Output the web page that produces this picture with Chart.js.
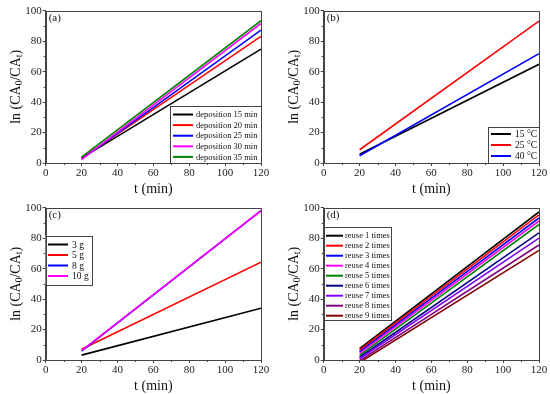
<!DOCTYPE html>
<html>
<head>
<meta charset="utf-8">
<script src="https://cdn.jsdelivr.net/npm/chart.js@4/dist/chart.umd.min.js"></script>
<style>
  html, body { margin: 0; padding: 0; background: #fff; }
  #wrap { position: relative; width: 550px; height: 394px; }
  .panel { position: absolute; width: 275px; height: 197px; }
</style>
</head>
<body>
<div id="wrap">
  <div class="panel" style="left:0;top:0"><canvas id="pa" width="275" height="197"></canvas></div>
  <div class="panel" style="left:275px;top:0"><canvas id="pb" width="275" height="197"></canvas></div>
  <div class="panel" style="left:0;top:197px"><canvas id="pc" width="275" height="197"></canvas></div>
  <div class="panel" style="left:275px;top:197px"><canvas id="pd" width="275" height="197"></canvas></div>
</div>
<script>
// shared x values (fitted lines from t = 20 to t = 120 min)
const tValues = [20, 120];
const xTicks = [0, 20, 40, 60, 80, 100, 120];
const yTicks = [0, 20, 40, 60, 80, 100];

// (a) deposition time
const labelsA = ['deposition 15 min', 'deposition 20 min', 'deposition 25 min', 'deposition 30 min', 'deposition 35 min'];
const dep15 = [3.2, 74.8];
const dep20 = [3.0, 83.2];
const dep25 = [2.6, 87.3];
const dep30 = [2.4, 91.6];
const dep35 = [3.9, 93.4];

// (b) temperature
const labelsB = ['15 °C', '25 °C', '40 °C'];
const temp15 = [5.8, 64.8];
const temp25 = [8.7, 93.2];
const temp40 = [4.8, 71.8];

// (c) dosage
const labelsC = ['3 g', '5 g', '8 g', '10 g'];
const dose3 = [3.2, 34.0];
const dose5 = [7.0, 64.2];
const dose8 = [5.8, 98.0];
const dose10 = [6.2, 98.0];

// (d) reuse
const labelsD = ['reuse 1 times', 'reuse 2 times', 'reuse 3 times', 'reuse 4 times', 'reuse 5 times',
                 'reuse 6 times', 'reuse 7 times', 'reuse 8 times', 'reuse 9 times'];
const reuse1 = [7.4, 97.2];
const reuse2 = [6.4, 95.3];
const reuse3 = [5.4, 93.3];
const reuse4 = [4.4, 91.3];
const reuse5 = [3.0, 89.0];
const reuse6 = [1.8, 83.5];
const reuse7 = [0.8, 80.0];
const reuse8 = [-0.4, 75.5];
const reuse9 = [-1.6, 72.0];

const SERIF = '"Liberation Serif", "Times New Roman", serif';
const FRAME = '#444';

function series(labels, arrays, colors) {
  return labels.map((lab, i) => ({
    label: lab,
    data: tValues.map((t, j) => ({ x: t, y: arrays[i][j] })),
    borderColor: colors[i],
    backgroundColor: colors[i],
    borderWidth: 1.6,
    pointRadius: 0,
    fill: false,
    order: labels.length - i   // later series painted on top, like the original
  }));
}

// frame, minor ticks, axis titles, panel tag and boxed legend
const decor = {
  id: 'decor',
  afterDraw(chart, args, opts) {
    const ctx = chart.ctx;
    const a = chart.chartArea;
    const xs = chart.scales.x, ys = chart.scales.y;
    ctx.save();
    ctx.strokeStyle = FRAME;
    ctx.lineWidth = 1;
    ctx.strokeRect(Math.round(a.left) + 0.5, Math.round(a.top) + 0.5,
                   Math.round(a.right - a.left), Math.round(a.bottom - a.top));
    // minor ticks
    ctx.beginPath();
    for (let v = 10; v < 120; v += 20) {
      const px = Math.round(xs.getPixelForValue(v)) + 0.5;
      ctx.moveTo(px, a.bottom); ctx.lineTo(px, a.bottom + 2);
    }
    for (let v = 10; v < 100; v += 20) {
      const py = Math.round(ys.getPixelForValue(v)) + 0.5;
      ctx.moveTo(a.left, py); ctx.lineTo(a.left - 2, py);
    }
    ctx.stroke();

    ctx.fillStyle = '#111';
    // x title
    ctx.font = '14px ' + SERIF;
    ctx.textAlign = 'center';
    ctx.textBaseline = 'middle';
    ctx.fillText('t (min)', (a.left + a.right) / 2, 189);

    // y title with subscripts
    const parts = [['ln (CA', 0], ['0', 1], ['/CA', 0], ['t', 1], [')', 0]];
    const big = '14px ' + SERIF, small = '9.5px ' + SERIF;
    let total = 0;
    parts.forEach(p => { ctx.font = p[1] ? small : big; total += ctx.measureText(p[0]).width; });
    ctx.translate(a.left - 31, (a.top + a.bottom) / 2);
    ctx.rotate(-Math.PI / 2);
    ctx.textAlign = 'left';
    ctx.textBaseline = 'alphabetic';
    let cx = -total / 2;
    parts.forEach(p => {
      ctx.font = p[1] ? small : big;
      ctx.fillText(p[0], cx, p[1] ? 7.5 : 5);
      cx += ctx.measureText(p[0]).width;
    });
    ctx.setTransform(1, 0, 0, 1, 0, 0);

    // panel tag
    ctx.font = '11px ' + SERIF;
    ctx.textAlign = 'left';
    ctx.fillText(opts.tag, a.left + 3, a.top + 10);

    // legend
    const L = opts.legend;
    ctx.fillStyle = '#fff';
    ctx.fillRect(L.x1, L.y1, L.x2 - L.x1, L.y2 - L.y1);
    ctx.strokeStyle = FRAME;
    ctx.strokeRect(Math.round(L.x1) + 0.5, Math.round(L.y1) + 0.5,
                   Math.round(L.x2 - L.x1), Math.round(L.y2 - L.y1));
    ctx.font = L.font + 'px ' + SERIF;
    ctx.textBaseline = 'middle';
    labelsOf(chart).forEach((ds, i) => {
      const y = L.row0 + i * L.step;
      ctx.strokeStyle = ds.borderColor;
      ctx.lineWidth = 2;
      ctx.beginPath();
      ctx.moveTo(L.s1, y); ctx.lineTo(L.s2, y);
      ctx.stroke();
      ctx.fillStyle = '#111';
      ctx.fillText(ds.label, L.tx, y + 0.5);
    });
    ctx.restore();
  }
};

function labelsOf(chart) {
  return chart.data.datasets;
}

function makePanel(id, datasets, tag, left, legend) {
  const tickFont = { family: SERIF, size: 11 };
  new Chart(document.getElementById(id), {
    type: 'line',
    data: { datasets },
    options: {
      responsive: false,
      animation: false,
      layout: { padding: { left: left - 30, right: 275 - (left + 215.3), top: 10.7, bottom: 197 - 163 - 16 } },
      plugins: {
        legend: { display: false },
        tooltip: { enabled: false },
        decor: { tag, legend }
      },
      scales: {
        x: {
          type: 'linear', min: 0, max: 120,
          afterFit: s => { s.height = 16; },
          afterBuildTicks: s => { s.ticks = xTicks.map(v => ({ value: v })); },
          grid: { drawOnChartArea: false, drawTicks: true, tickLength: 3, color: FRAME },
          border: { display: true, color: FRAME },
          ticks: { font: tickFont, color: '#222', padding: 1, maxRotation: 0 }
        },
        y: {
          type: 'linear', min: 0, max: 100,
          afterFit: s => { s.width = 30; },
          afterBuildTicks: s => { s.ticks = yTicks.map(v => ({ value: v })); },
          grid: { drawOnChartArea: false, drawTicks: true, tickLength: 3, color: FRAME },
          border: { display: true, color: FRAME },
          ticks: { font: tickFont, color: '#222', padding: 1 }
        }
      }
    },
    plugins: [decor]
  });
}

makePanel('pa',
  series(labelsA, [dep15, dep20, dep25, dep30, dep35], ['#000000', '#ff0000', '#0000ff', '#ff00ff', '#008000']),
  '(a)', 45.7,
  { x1: 170, y1: 106, x2: 261, y2: 163, row0: 114.5, step: 10.6, s1: 173, s2: 193, tx: 196, font: 8.5 });

makePanel('pb',
  series(labelsB, [temp15, temp25, temp40], ['#000000', '#ff0000', '#0000ff']),
  '(b)', 48.7,
  { x1: 213, y1: 126.7, x2: 264, y2: 163, row0: 134, step: 11, s1: 216, s2: 236, tx: 240, font: 9.5 });

makePanel('pc',
  series(labelsC, [dose3, dose5, dose8, dose10], ['#000000', '#ff0000', '#0000ff', '#ff00ff']),
  '(c)', 45.7,
  { x1: 45.7, y1: 38.7, x2: 91.7, y2: 88, row0: 47.5, step: 10.5, s1: 48, s2: 68, tx: 72, font: 9.5 });

makePanel('pd',
  series(labelsD, [reuse1, reuse2, reuse3, reuse4, reuse5, reuse6, reuse7, reuse8, reuse9],
    ['#000000', '#ff0000', '#0000ff', '#ff00ff', '#008000', '#000080', '#8000ff', '#800080', '#800000']),
  '(d)', 48.7,
  { x1: 49.3, y1: 29.7, x2: 116, y2: 123, row0: 38.7, step: 10, s1: 51, s2: 68, tx: 70, font: 8.5 });
</script>
</body>
</html>
